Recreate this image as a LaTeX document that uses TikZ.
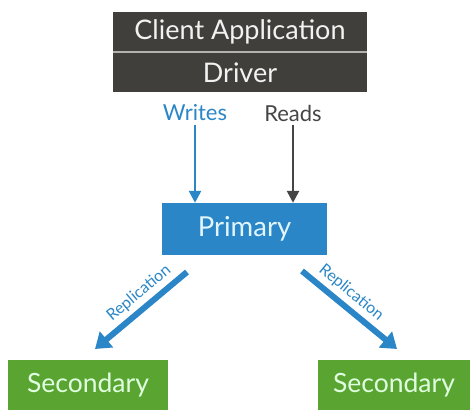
\documentclass[tikz,border=0pt]{standalone}
\usepackage{fontspec}
\setmainfont{Lato}
\usepackage{tikz}
\usetikzlibrary{positioning}
\usetikzlibrary{arrows.meta}

\definecolor{darkbox}{HTML}{403F3B}
\definecolor{primblue}{HTML}{2A86C6}
\definecolor{secgreen}{HTML}{5AA532}
\definecolor{readgray}{HTML}{454545}

\begin{document}
\begin{tikzpicture}[x=1pt,y=-1pt,
	dark node/.style={rectangle,fill=darkbox,text=white!90!gray,minimum width=254pt,minimum height=40pt,inner sep=0pt,font=\fontsize{27}{27}\selectfont},
	prim node/.style={rectangle,fill=primblue,text=cyan!12,minimum width=165pt,minimum height=52pt,inner sep=0pt,font=\fontsize{27.5}{27.5}\selectfont},
	sec node/.style={rectangle,fill=secgreen,text=green!12,minimum height=50pt,inner sep=0pt,font=\fontsize{26.5}{26.5}\selectfont},
	label node/.style={font=\fontsize{22}{22}\selectfont},
	small arrow/.style={line width=2.5pt,-{Triangle[width=12pt,length=12pt]}},
	rep arrow/.style={line width=6pt,primblue,-{Triangle[width=20pt,length=15pt]}}]
	
	\useasboundingbox (0,0) rectangle (471,410);
	
	\node[dark node] (client) at (240,32) {Client Application};
	\node[dark node] (driver) [below=0pt of client] {Driver};
	\draw[white!60!darkbox,line width=1.5pt] (client.south west) -- (client.south east);
	
	\node[label node,text=primblue] (writes) at (195,113) {Writes};
	\node[label node,text=readgray] (reads) at (293,113) {Reads};
	
	\node[prim node] (primary) at (244.5,229) {Primary};
	
	\node[sec node,minimum width=160pt] (sec1) at (88,385) {Secondary};
	\node[sec node,minimum width=152pt] (sec2) at (394,385) {Secondary};
	
	\draw[small arrow,primblue] (writes.south) -- (writes.south |- primary.north);
	\draw[small arrow,readgray] (reads.south) -- (reads.south |- primary.north);
	
	% replication arrows
	\coordinate (rep1a) at (187,272);
	\coordinate (rep1b) at (95,349);
	\coordinate (rep2a) at (302,271);
	\coordinate (rep2b) at (397,349);
	\path[every node/.style={font=\fontsize{16}{16}\selectfont,text=primblue,sloped,above=1pt,pos=0.42}]
	(rep1a) edge [rep arrow] node {Replication} (rep1b)
	(rep2a) edge [rep arrow] node {Replication} (rep2b);
\end{tikzpicture}
\end{document}
